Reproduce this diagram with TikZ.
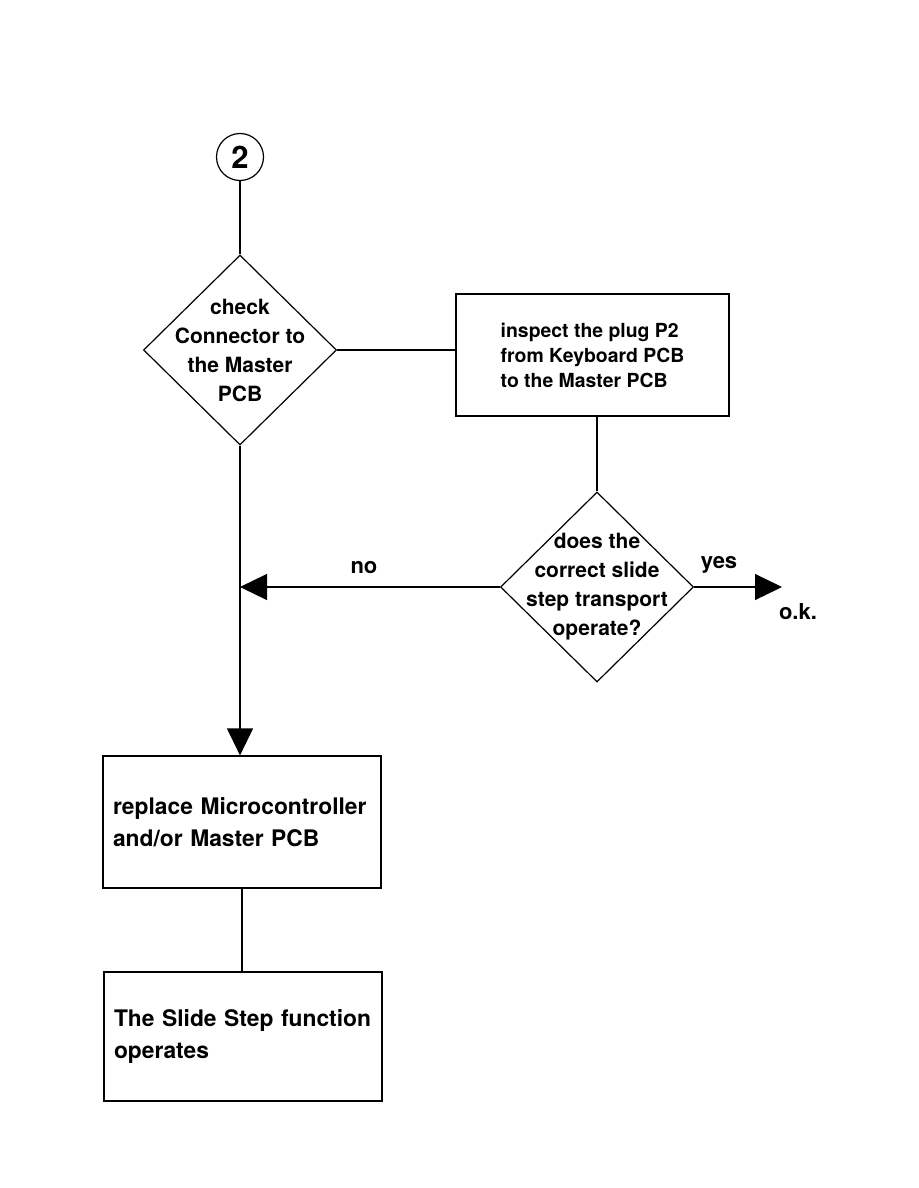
\documentclass[tikz,border=0pt]{standalone}
\usepackage{fontspec}
\setmainfont{TeX Gyre Heros}
\usetikzlibrary{shapes.geometric,arrows.meta}

\tikzset{
  flowline/.style={line width=0.6pt},
  flowarrow/.style={flowline, -{Triangle[length=13.5pt,width=13pt]}},
  decision/.style={diamond, draw, flowline, inner sep=0pt,
    minimum width=96.5pt, minimum height=95pt},
  decisiontext/.style={align=center, font=\fontsize{10.5}{14.5}\selectfont\bfseries},
  checkbox/.style={rectangle, draw, flowline, align=left,
    minimum width=136.5pt, minimum height=61pt,
    font=\fontsize{9.7}{12.5}\selectfont\bfseries},
  actionbox/.style={rectangle, draw, flowline, align=left,
    text width=129pt, inner xsep=5pt, minimum height=66pt,
    font=\fontsize{11.4}{16}\selectfont\bfseries},
  branchlabel/.style={font=\fontsize{11}{13}\selectfont\bfseries}
}

\begin{document}
\begin{tikzpicture}[x=0.5pt, y=-0.5pt]

    \useasboundingbox (0,0) rectangle (918,1188);

    % connector and decisions
    \node[circle, draw, flowline, minimum size=23.5pt, inner sep=0pt,
          font=\fontsize{15.5}{15.5}\selectfont\bfseries] (conn) at (240,157) {2};

    \node[decision, label={[decisiontext]center:check\\Connector to\\the Master\\PCB}]
        (chk) at (240,350) {};

    \node[checkbox] (plug) at (592.5,355) {inspect the plug P2\\from Keyboard PCB\\to the Master PCB};

    \node[decision, label={[decisiontext]center:does the\\correct slide\\step transport\\operate?}]
        (stp) at (597,587) {};

    % actions
    \node[actionbox] (repl) at (242,822) {replace Microcontroller\\and/or Master PCB\\[4pt]};
    \node[actionbox, minimum height=64.5pt] (fine) at (243,1036.5) {The Slide Step function\\operates\\[4pt]};

    \coordinate (okend) at (782,587);

    % connections
    \draw[flowline] (conn) -- (chk.north);
    \draw[flowline] (chk.east) -- (chk.east -| plug.west);
    \draw[flowline] (stp.north |- plug.south) -- (stp.north);
    \draw[flowarrow] (stp.west) -- (stp.west -| chk.south) node[midway, above=3pt, branchlabel, xshift=-3pt] {no};
    \draw[flowarrow] (stp.east) -- (okend);
    \draw[flowarrow] (chk.south) -- (chk.south |- repl.north);
    \draw[flowline] (repl.south) -- (repl.south |- fine.north);

    \node[branchlabel] (yes) at (719,565) {yes};
    \node[branchlabel] (ok) at (798,612) {o.k.};

\end{tikzpicture}
\end{document}
